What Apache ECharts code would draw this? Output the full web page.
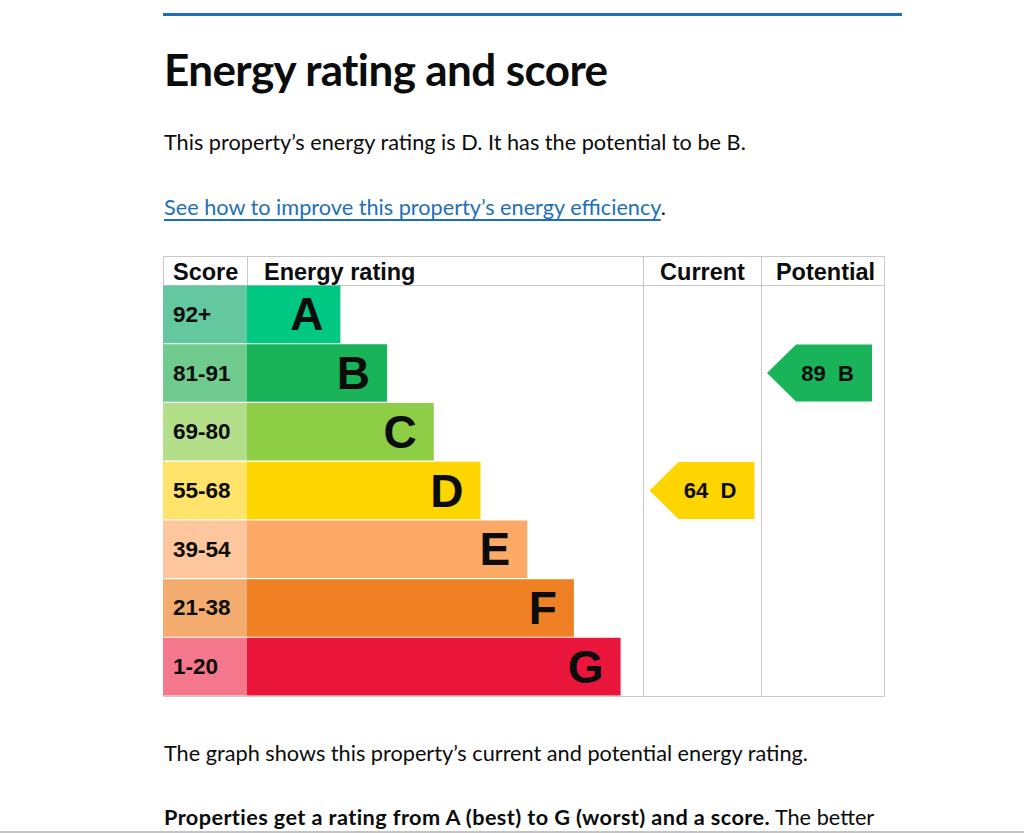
<!DOCTYPE html>
<html>
<head>
<meta charset="utf-8">
<title>Energy rating and score</title>
<script src="https://cdn.jsdelivr.net/npm/echarts@6/dist/echarts.min.js"></script>
<style>
  html, body { margin: 0; padding: 0; background: #fff; }
  body {
    position: relative; width: 1024px; height: 833px; overflow: hidden;
    font-family: Lato, Arial, sans-serif; color: #0b0c0c;
  }
  .rule { position: absolute; left: 163px; top: 13px; width: 739px; height: 3px; background: #1d70b8; }
  .txt { position: absolute; left: 164px; margin: 0; white-space: nowrap; line-height: 1.2; }
  h1.txt { top: 43px; font-size: 44px; font-weight: 700; letter-spacing: -0.6px; }
  .body { font-size: 21.7px; }
  .body strong { letter-spacing: 0.4px; }
  a { color: #1d70b8; text-decoration: underline; text-underline-offset: 4px; }
  #epc-chart { position: absolute; left: 163px; top: 256px; width: 724px; height: 442px; }
  .edge { position: absolute; left: 0; top: 831px; width: 1024px; height: 2px; background: #c4c4c4; }
</style>
</head>
<body>
<div class="rule"></div>
<h1 class="txt">Energy rating and score</h1>
<p class="txt body" style="top:129px">This property’s energy rating is D. It has the potential to be B.</p>
<p class="txt body" style="top:194px"><a href="#">See how to improve this property’s energy efficiency</a>.</p>
<div id="epc-chart"></div>
<p class="txt body" style="top:740px">The graph shows this property’s current and potential energy rating.</p>
<p class="txt body" style="top:804px"><strong>Properties get a rating from A (best) to G (worst) and a score.</strong> The better</p>
<div class="edge"></div>

<script>
  // bands, top to bottom
  const ratings = ['A', 'B', 'C', 'D', 'E', 'F', 'G'];
  const scoreBands = ['92+', '81-91', '69-80', '55-68', '39-54', '21-38', '1-20'];
  // bar length in steps
  const barLengths = [2, 3, 4, 5, 6, 7, 8];

  const currentScore = 64;
  const currentRating = 'D';
  const potentialScore = 89;
  const potentialRating = 'B';

  const headers = ['Score', 'Energy rating', 'Current', 'Potential'];

  const ratingColours = ['#00c781', '#19b459', '#8dce46', '#ffd500', '#fcaa65', '#ef8023', '#e9153b'];
  const bandColours = ['#63c7a0', '#6fcb8e', '#b4df8a', '#ffe36b', '#fec69c', '#f3ab6e', '#f4778b'];

  const lineColour = '#c8c8c8';
  const ink = '#0b0c0c';
  const arrowPath = 'path://M0,29L29,0L105,0L105,58L29,58Z';

  let chartDom = document.getElementById('epc-chart');
  let myChart = echarts.init(chartDom, null, { renderer: 'svg' });

  // one grid per table column, header row is 29px
  const cols = [
    { left: 0, width: 84 },
    { left: 84, width: 396 },
    { left: 480, width: 118 },
    { left: 598, width: 123 },
  ];
  const axisMax = [1, 8.48, 1, 1];

  function arrowSeries(idx, score, rating, offsetX) {
    return {
      type: 'scatter',
      xAxisIndex: idx,
      yAxisIndex: idx,
      symbol: arrowPath,
      symbolSize: [105, 57],
      symbolOffset: [offsetX, 0],
      itemStyle: { color: ratingColours[ratings.indexOf(rating)], opacity: 1 },
      label: {
        show: true,
        position: 'inside',
        offset: [8, 0],
        formatter: () => score + '\u00a0 ' + rating,
        color: ink,
        fontFamily: 'Liberation Sans, Arial, sans-serif',
        fontWeight: 'bold',
        fontSize: 22,
      },
      emphasis: { disabled: true },
      data: [[0.5, rating]],
    };
  }

  let option = {
    animation: false,
    grid: cols.map((c) => ({ left: c.left, width: c.width, top: 29, height: 411 })),
    xAxis: cols.map((c, i) => ({ gridIndex: i, type: 'value', min: 0, max: axisMax[i], show: false })),
    yAxis: cols.map((c, i) => ({ gridIndex: i, type: 'category', data: ratings, inverse: true, show: false })),
    graphic: {
      elements: [
        // table rules
        { type: 'rect', z: -10, shape: { x: 0.5, y: 0.5, width: 721, height: 440 }, style: { fill: 'none', stroke: lineColour, lineWidth: 1 } },
        { type: 'line', z: -10, shape: { x1: 0, y1: 29.5, x2: 721, y2: 29.5 }, style: { stroke: lineColour, lineWidth: 1 } },
        { type: 'line', z: -10, shape: { x1: 84.5, y1: 0, x2: 84.5, y2: 29 }, style: { stroke: lineColour, lineWidth: 1 } },
        { type: 'line', z: -10, shape: { x1: 480.5, y1: 0, x2: 480.5, y2: 440 }, style: { stroke: lineColour, lineWidth: 1 } },
        { type: 'line', z: -10, shape: { x1: 598.5, y1: 0, x2: 598.5, y2: 440 }, style: { stroke: lineColour, lineWidth: 1 } },
        // header text
        ...headers.map((h, i) => ({
          type: 'text',
          x: i === 0 ? 10 : i === 1 ? 101 : i === 2 ? 539.5 : 662.5,
          y: 16,
          style: {
            text: h,
            fill: ink,
            font: 'bold 23.5px "Liberation Sans", Arial, sans-serif',
            align: i < 2 ? 'left' : 'center',
            verticalAlign: 'middle',
          },
        })),
      ],
    },
    series: [
      {
        type: 'bar',
        xAxisIndex: 0,
        yAxisIndex: 0,
        barWidth: 57.6,
        emphasis: { disabled: true },
        label: {
          show: true,
          position: 'insideLeft',
          distance: 10,
          formatter: (p) => scoreBands[p.dataIndex],
          color: ink,
          fontFamily: 'Liberation Sans, Arial, sans-serif',
          fontWeight: 'bold',
          fontSize: 22.5,
        },
        data: scoreBands.map((b, i) => ({ value: 1, itemStyle: { color: bandColours[i] } })),
      },
      {
        type: 'bar',
        xAxisIndex: 1,
        yAxisIndex: 1,
        barWidth: 57.6,
        emphasis: { disabled: true },
        label: {
          show: true,
          position: 'insideRight',
          distance: 17,
          formatter: (p) => ratings[p.dataIndex],
          color: ink,
          fontFamily: 'Liberation Sans, Arial, sans-serif',
          fontWeight: 'bold',
          fontSize: 46,
        },
        data: barLengths.map((v, i) => ({ value: v, itemStyle: { color: ratingColours[i] } })),
      },
      arrowSeries(2, currentScore, currentRating, 0),
      arrowSeries(3, potentialScore, potentialRating, -3),
    ],
  };

  myChart.setOption(option);
</script>
</body>
</html>
